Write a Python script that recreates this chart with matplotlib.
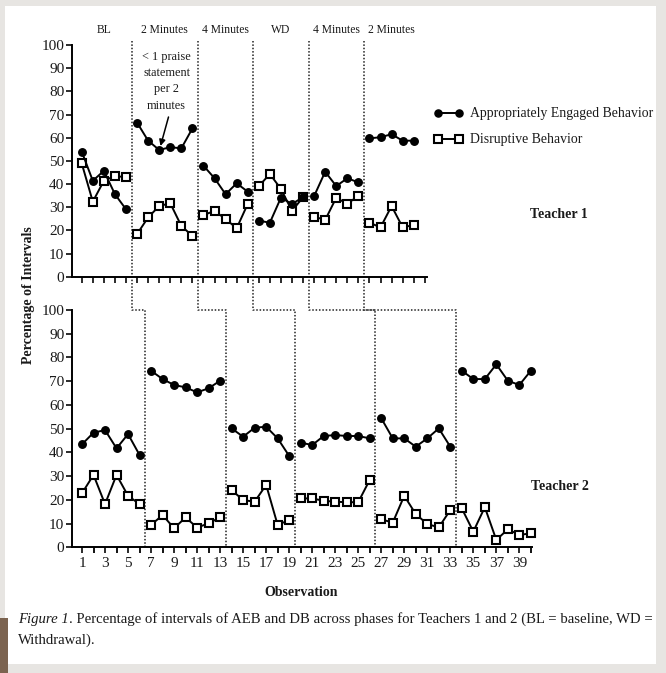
import matplotlib
matplotlib.use('Agg')
import matplotlib.pyplot as plt
from matplotlib.patches import Rectangle
from matplotlib.lines import Line2D

W, H = 666, 673
plt.rcParams['font.family'] = ['Liberation Serif', 'DejaVu Serif']

# ---------------- data ----------------
t1_phases = [(1, 5), (6, 11), (12, 16), (17, 21), (22, 26), (27, 31)]
t2_phases = [(1, 6), (7, 13), (14, 19), (20, 26), (27, 33), (34, 40)]
phase_names = ['BL', '2 Minutes', '4 Minutes', 'WD', '4 Minutes', '2 Minutes']

t1_aeb = [54.0, 41.4, 45.7, 35.6, 29.1,
          66.5, 58.7, 54.7, 55.9, 55.4, 64.0,
          47.9, 42.5, 35.6, 40.3, 36.7,
          24.2, 23.3, 34.1, 31.4, 34.3,
          34.8, 45.3, 39.1, 42.5, 40.7,
          59.7, 60.2, 61.5, 58.7, 58.7]
t1_db = [48.9, 32.4, 41.4, 43.5, 42.9,
         18.4, 25.6, 30.5, 31.7, 21.9, 17.6,
         26.6, 28.4, 24.9, 20.9, 31.4,
         39.1, 44.3, 37.9, 28.4, 34.3,
         25.9, 24.5, 34.1, 31.4, 35.0,
         23.3, 21.3, 30.5, 21.3, 22.3]

t2_aeb = [43.4, 48.3, 49.4, 41.7, 47.7, 38.9,
          74.4, 70.9, 68.4, 67.4, 65.3, 67.0, 70.2,
          50.1, 46.6, 50.4, 50.8, 45.9, 38.5,
          44.1, 43.1, 46.9, 47.3, 46.9, 46.9, 45.9,
          54.4, 45.9, 45.9, 42.4, 45.9, 50.1, 42.4,
          74.4, 70.9, 70.9, 77.1, 70.2, 68.4, 74.4]
t2_db = [22.8, 30.5, 18.2, 30.5, 21.7, 18.2,
         9.4, 13.6, 8.0, 12.6, 8.3, 10.1, 12.6,
         24.1, 19.9, 19.2, 26.3, 9.4, 11.5,
         20.6, 20.6, 19.6, 19.2, 19.0, 19.0, 28.4,
         11.8, 10.4, 21.7, 14.0, 9.8, 8.4, 15.7,
         16.4, 6.6, 16.9, 3.1, 7.6, 5.2, 5.9]

y_ticks = list(range(0, 101, 10))

# ---------------- figure ----------------
fig = plt.figure(figsize=(W / 100, H / 100), dpi=100)
fig.patch.set_facecolor('#e7e5e2')

def px_axes(x0, y0, x1, y1):
    return [x0 / W, 1 - y1 / H, (x1 - x0) / W, (y1 - y0) / H]

ax1 = fig.add_axes(px_axes(72, 45, 427, 276.7))
ax2 = fig.add_axes(px_axes(72, 310, 532, 547.3))

aeb_style = dict(color='black', lw=1.4, marker='o', ms=5.4, mfc='black', mec='black')
db_style = dict(color='black', lw=1.4, marker='s', ms=6.3, mfc='white', mec='black', mew=1.5)

def draw(ax, phases, aeb, db):
    for a, b in phases:
        xs = list(range(a, b + 1))
        ax.plot(xs, db[a - 1:b], zorder=3, clip_on=False, **db_style)
        ax.plot(xs, aeb[a - 1:b], zorder=4, clip_on=False, **aeb_style)

draw(ax1, t1_phases, t1_aeb, t1_db)
draw(ax2, t2_phases, t2_aeb, t2_db)

for ax in (ax1, ax2):
    ax.set_facecolor('none')
    ax.set_ylim(0, 100)
    ax.set_yticks(y_ticks)
    for s in ('top', 'right'):
        ax.spines[s].set_visible(False)
    for s in ('left', 'bottom'):
        ax.spines[s].set_linewidth(1.4)
    ax.tick_params(axis='both', direction='out', length=4, width=1.3,
                   labelsize=11, pad=1.5, colors='#1a1a1a')

ax1.set_xlim(0.12, 32.2)
ax1.set_xticks(range(1, 33))
ax1.set_xticklabels([])
ax2.set_xlim(0.13, 40.1)
ax2.set_xticks(range(1, 41, 2))
ax2.set_xticks(range(2, 41, 2), minor=True)
ax2.tick_params(axis='x', which='minor', direction='out', length=4, width=1.3)
ax2.tick_params(axis='x', pad=3)

# phase labels
for (a, b), name in zip(t1_phases, phase_names):
    ax1.text((a + b) / 2, 106.5, name, ha='center', va='center', fontsize=8.4,
             color='#1a1a1a', clip_on=False)

# ---------------- overlay (pixel coords) ----------------
ov = fig.add_axes([0, 0, 1, 1], zorder=-1)
ov.set_xlim(0, W)
ov.set_ylim(H, 0)
ov.axis('off')
ov.add_patch(Rectangle((5, 6), 651, 658, facecolor='white', edgecolor='none'))
ov.add_patch(Rectangle((0, 618), 8, 55, facecolor='#7b6350', edgecolor='none'))

def to_px(ax, x, y):
    dx, dy = ax.transData.transform((x, y))
    return dx, H - dy

for (a1, b1), (a2, b2) in zip(t1_phases[:-1], t2_phases[:-1]):
    xt, _ = to_px(ax1, b1 + 0.5, 0)
    xb, ystep = to_px(ax2, b2 + 0.5, 100)
    _, ybot = to_px(ax2, b2 + 0.5, 0)
    ov.plot([xt, xt, xb, xb], [41, ystep, ystep, ybot], color='#222222',
            lw=1.1, ls=(0, (1, 1.2)))

# annotation
for txt, y in (('< 1 praise', 57), ('statement', 72.5), ('per 2', 89), ('minutes', 106)):
    ov.text(166.5, y, txt, ha='center', va='center', fontsize=8.8, color='#1a1a1a')
ov.annotate('', xy=(160.5, 146), xytext=(168.5, 117),
            arrowprops=dict(arrowstyle='-|>', lw=1.1, color='black', mutation_scale=9,
                            shrinkA=0, shrinkB=0))

# legend
for y, st in ((113, aeb_style), (139, db_style)):
    st2 = dict(st)
    st2['ms'] = st['ms'] * 0.95
    ov.add_line(Line2D([438, 459], [y, y], **st2))
ov.text(470, 113, 'Appropriately Engaged Behavior', ha='left', va='center', fontsize=9.9,
        color='#1a1a1a')
ov.text(470, 139, 'Disruptive Behavior', ha='left', va='center', fontsize=9.9,
        color='#1a1a1a')

ov.text(559, 215, 'Teacher 1', ha='center', va='center', fontsize=10, fontweight='bold',
        color='#1a1a1a')
ov.text(560, 486, 'Teacher 2', ha='center', va='center', fontsize=10, fontweight='bold',
        color='#1a1a1a')
ov.text(301, 592, 'Observation', ha='center', va='center', fontsize=10, fontweight='bold',
        color='#1a1a1a')
ov.text(29, 295, 'Percentage of Intervals', ha='center', va='center', fontsize=10,
        fontweight='bold', rotation=90, color='#1a1a1a')

# caption
r = fig.canvas.get_renderer()
cap_fs = 10.6
t_it = ov.text(18, 619, 'Figure 1', ha='left', va='center', fontsize=cap_fs,
               style='italic', color='#1a1a1a')
bb = t_it.get_window_extent(renderer=r)
ov.text(bb.x1, 619, '. Percentage of intervals of AEB and DB across phases for Teachers 1 and 2 '
        '(BL = baseline, WD =', ha='left', va='center', fontsize=cap_fs, color='#1a1a1a')
ov.text(18, 640, 'Withdrawal).', ha='left', va='center', fontsize=cap_fs, color='#1a1a1a')

fig.savefig('out.png', dpi=100, facecolor=fig.get_facecolor())
